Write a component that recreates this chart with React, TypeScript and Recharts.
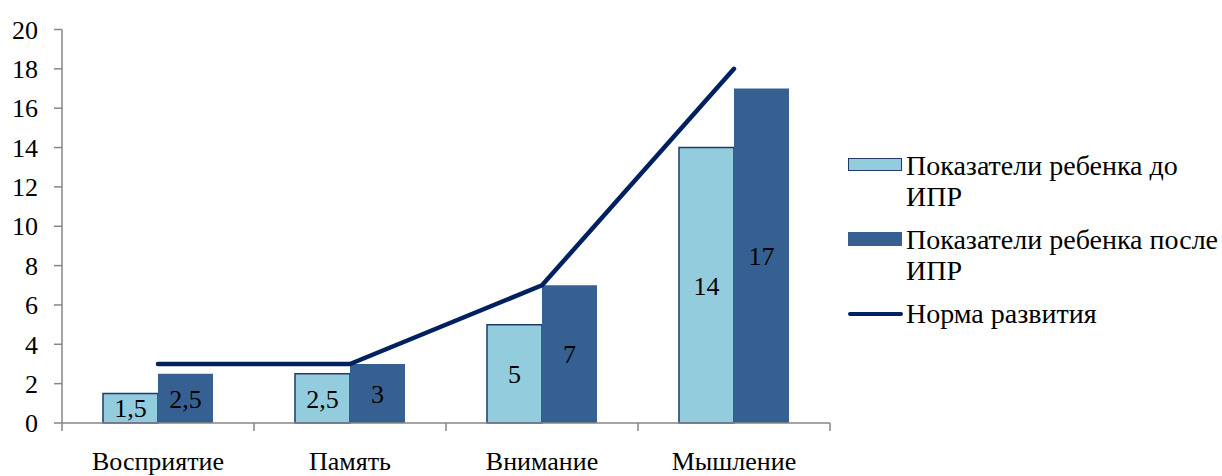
import React from "react";
import { ComposedChart, Bar, Line, XAxis, YAxis, LabelList } from "recharts";

const categories = ["Восприятие", "Память", "Внимание", "Мышление"];
const beforeValues = [1.5, 2.5, 5, 14];
const afterValues = [2.5, 3, 7, 17];
const normValues = [3, 3, 7, 18];
const yTicks = [0, 2, 4, 6, 8, 10, 12, 14, 16, 18, 20];
const seriesNames = [
  "Показатели ребенка до ИПР",
  "Показатели ребенка после ИПР",
  "Норма развития",
];
const legendLines = [
  ["Показатели ребенка до", "ИПР"],
  ["Показатели ребенка после", "ИПР"],
  ["Норма развития"],
];

const data = categories.map((c, i) => ({
  name: c,
  before: beforeValues[i],
  after: afterValues[i],
  norm: normValues[i],
}));

const FONT = "'Liberation Serif', 'Times New Roman', serif";
const LIGHT = "#93CDDD";
const LIGHT_STROKE = "#1F3A6B";
const DARK = "#376092";
const LINE = "#002060";
const AXIS = "#868686";
const FS = 26;
const LEGEND_FS = 28;

const fmt = (v: any) => String(v).replace(".", ",");

const CategoryTick = (props: any) => {
  const { x, y, payload, index, visibleTicksCount } = props;
  const half = payload && payload.offset ? payload.offset : 96;
  const count = visibleTicksCount ?? categories.length;
  return (
    <g>
      <line x1={x - half} x2={x - half} y1={y} y2={y + 8} stroke={AXIS} strokeWidth={1.5} />
      {index === count - 1 && (
        <line x1={x + half} x2={x + half} y1={y} y2={y + 8} stroke={AXIS} strokeWidth={1.5} />
      )}
      <text x={x} y={y + 29} dy="0.71em" textAnchor="middle" fill="#000" fontSize={FS} style={{ fontFamily: FONT }}>
        {payload.value}
      </text>
    </g>
  );
};

const LegendBox = () => {
  const icons = [
    <div style={{ width: 52, height: 11, background: LIGHT, border: `1.5px solid ${LIGHT_STROKE}`, marginTop: 8 }} />,
    <div style={{ width: 54, height: 14, background: DARK, marginTop: 8 }} />,
    <div style={{ width: 55, height: 4, background: LINE, borderRadius: 2, marginTop: 14 }} />,
  ];
  return (
    <div style={{ position: "absolute", left: 848, top: 150, width: 374, fontSize: LEGEND_FS, lineHeight: "31px", color: "#000", fontFamily: FONT }}>
      {seriesNames.map((n, i) => (
        <div key={n} style={{ display: "flex", alignItems: "flex-start", marginBottom: 12 }}>
          <div style={{ width: 58, flex: "none" }}>{icons[i]}</div>
          <div style={{ whiteSpace: "nowrap" }}>
            {legendLines[i].map((l, j) => (
              <div key={j}>{l}</div>
            ))}
          </div>
        </div>
      ))}
    </div>
  );
};

export default function App() {
  return (
    <div style={{ position: "absolute", left: 0, top: 0, width: 1222, height: 476, background: "#fff", fontFamily: FONT }}>
      <ComposedChart
        width={1222}
        height={476}
        data={data}
        margin={{ top: 29.5, right: 392, bottom: 0, left: 0 }}
        barCategoryGap="21.35%"
        barGap={0}
      >
        <XAxis
          dataKey="name"
          tickLine={false}
          tickSize={0}
          tickMargin={0}
          height={53}
          axisLine={{ stroke: AXIS, strokeWidth: 1.5 }}
          tick={<CategoryTick />}
          interval={0}
        />
        <YAxis
          width={62}
          domain={[0, 20]}
          ticks={yTicks}
          interval={0}
          tickSize={8}
          tickMargin={16}
          axisLine={{ stroke: AXIS, strokeWidth: 1.5 }}
          tickLine={{ stroke: AXIS, strokeWidth: 1.5 }}
          tick={{ fill: "#000", fontSize: FS, fontFamily: FONT }}
        />
        <Bar dataKey="before" name={seriesNames[0]} fill={LIGHT} stroke={LIGHT_STROKE} strokeWidth={1.5} isAnimationActive={false}>
          <LabelList dataKey="before" position="center" formatter={fmt} fill="#000" fontSize={FS} fontFamily={FONT} />
        </Bar>
        <Bar dataKey="after" name={seriesNames[1]} fill={DARK} isAnimationActive={false}>
          <LabelList dataKey="after" position="center" formatter={fmt} fill="#000" fontSize={FS} fontFamily={FONT} />
        </Bar>
        <Line
          dataKey="norm"
          name={seriesNames[2]}
          type="linear"
          stroke={LINE}
          strokeWidth={4.5}
          strokeLinecap="round"
          strokeLinejoin="round"
          dot={false}
          activeDot={false}
          isAnimationActive={false}
        />
      </ComposedChart>
      <LegendBox />
    </div>
  );
}
